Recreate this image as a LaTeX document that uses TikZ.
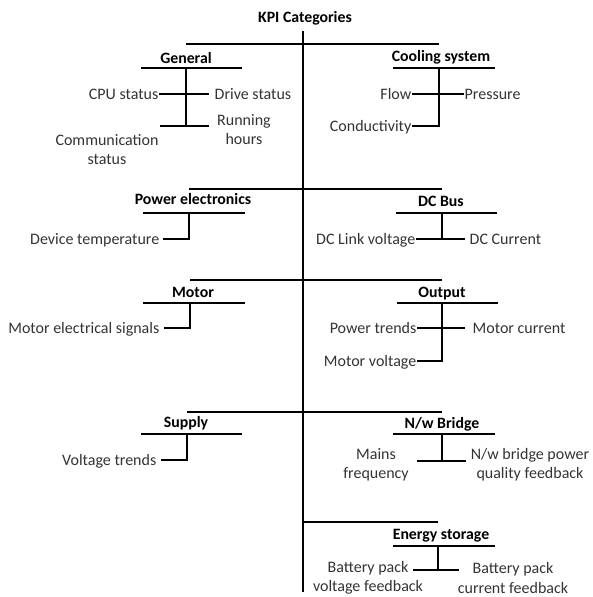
\documentclass[tikz,border=0pt]{standalone}
\usepackage{fontspec}
\setmainfont{Carlito}
\usetikzlibrary{positioning, calc}
\tikzstyle{wire} = [line width=1.8pt]
\tikzstyle{cat} = [font=\fontsize{15.8}{19}\selectfont\bfseries, inner sep=0pt, anchor=base]
\tikzstyle{sig} = [font=\fontsize{16}{19}\selectfont, text=black!80, inner ysep=0pt, inner xsep=0.5pt, text height=10.8pt, text depth=0pt]
\tikzstyle{sig2} = [font=\fontsize{16}{19.5}\selectfont, text=black!80, inner sep=0pt, align=center]

\begin{document}
\begin{tikzpicture}[x=1pt, y=-1pt]
    \useasboundingbox (0,0) rectangle (592,597);

    % Root
    \node[cat] (kpi) at (305, 22) {KPI Categories};
    \coordinate (top) at (303, 31);
    \coordinate (bottom) at (303, 592);
    \draw[wire] (top) -- (bottom);

    % Branch rows
    \coordinate (r1) at (303, 44);
    \coordinate (r2) at (303, 189);
    \coordinate (r3) at (303, 280);
    \coordinate (r4) at (303, 412);
    \coordinate (r5) at (303, 522);

    % General
    \coordinate (genU) at (186, 68);
    \coordinate (genD) at (186, 126);
    \node[cat] (general) at (186, 63.5) {General};
    \draw[wire] ([xshift=-45pt]genU) -- ([xshift=56pt]genU);
    \draw[wire] (genU) -- (genD);
    \node[sig, anchor=east] (cpu) at (159, 94) {CPU status};
    \node[sig, anchor=west] (drive) at (214, 94) {Drive status};
    \draw[wire] (cpu.east) -- ([xshift=-5pt]drive.west);
    \draw[wire] ([xshift=-26pt]genD) -- ([xshift=23pt]genD);
    \node[sig2] (comm) at (107, 149.5) {Communication\\status};
    \node[sig2] (hours) at (244, 129.5) {Running\\hours};

    % Cooling system
    \coordinate (coolU) at (439, 68);
    \coordinate (coolD) at (439, 126);
    \node[cat] (cooling) at (441, 61.5) {Cooling system};
    \draw[wire] ([xshift=-46pt]coolU) -- ([xshift=56pt]coolU);
    \node[sig, anchor=east] (flow) at (412, 94) {Flow};
    \node[sig, anchor=west] (pressure) at (464, 94) {Pressure};
    \draw[wire] (flow.east) -- (pressure.west);
    \node[sig, anchor=east] (cond) at (412, 126) {Conductivity};
    \draw[wire] (coolU) -- (coolD) -- (cond.east);

    % Power electronics
    \coordinate (powU) at (189, 213);
    \coordinate (powD) at (189, 239);
    \node[cat] (power) at (193, 204.5) {Power electronics};
    \draw[wire] ([xshift=-46pt]powU) -- ([xshift=56pt]powU);
    \node[sig, anchor=east] (devtemp) at (160, 239) {Device temperature};
    \draw[wire] (powU) -- (powD) -- ([xshift=3pt]devtemp.east);

    % DC Bus
    \coordinate (dcU) at (442, 213);
    \coordinate (dcD) at (442, 239);
    \node[cat] (dcbus) at (441, 206) {DC Bus};
    \draw[wire] ([xshift=-46pt]dcU) -- ([xshift=55pt]dcU);
    \draw[wire] (dcU) -- (dcD);
    \node[sig, anchor=east] (dclink) at (416, 239) {DC Link voltage};
    \node[sig, anchor=west] (dccur) at (469, 239) {DC Current};
    \draw[wire] (dclink.east) -- ([xshift=-4pt]dccur.west);

    % Motor
    \coordinate (motU) at (190, 303);
    \coordinate (motD) at (190, 328);
    \node[cat] (motor) at (193, 297.5) {Motor};
    \draw[wire] ([xshift=-47pt]motU) -- ([xshift=55pt]motU);
    \node[sig, anchor=east] (elec) at (160, 328) {Motor electrical signals};
    \draw[wire] (motU) -- (motD) -- ([xshift=4pt]elec.east);

    % Output
    \coordinate (outU) at (442, 303);
    \coordinate (outD) at (442, 361);
    \node[cat] (output) at (442, 297.5) {Output};
    \draw[wire] ([xshift=-45pt]outU) -- ([xshift=56pt]outU);
    \node[sig, anchor=east] (ptrend) at (417, 328) {Power trends};
    \node[sig, anchor=west] (mcur) at (472, 328) {Motor current};
    \draw[wire] (ptrend.east) -- ([xshift=-7pt]mcur.west);
    \node[sig, anchor=east] (mvolt) at (417, 361) {Motor voltage};
    \draw[wire] (outU) -- (outD) -- (mvolt.east);

    % Supply
    \coordinate (supU) at (187, 434);
    \coordinate (supD) at (187, 460);
    \node[cat] (supply) at (186, 427.5) {Supply};
    \draw[wire] ([xshift=-46pt]supU) -- ([xshift=55pt]supU);
    \node[sig, anchor=east] (vtrend) at (157, 460) {Voltage trends};
    \draw[wire] (supU) -- (supD) -- ([xshift=4pt]vtrend.east);

    % N/w Bridge
    \coordinate (nwU) at (442, 434);
    \coordinate (nwD) at (442, 461);
    \node[cat] (bridge) at (442, 428.5) {N/w Bridge};
    \draw[wire] ([xshift=-49pt]nwU) -- ([xshift=53pt]nwU);
    \draw[wire] (nwU) -- (nwD);
    \draw[wire] ([xshift=-25pt]nwD) -- ([xshift=24pt]nwD);
    \node[sig2] (mains) at (376, 464.8) {Mains\\frequency};
    \node[sig2] (nwfb) at (530, 464.8) {N/w bridge power\\quality feedback};

    % Energy storage
    \coordinate (enU) at (438, 546);
    \coordinate (enD) at (438, 570);
    \node[cat] (storage) at (441, 539) {Energy storage};
    \draw[wire] ([xshift=-45pt]enU) -- ([xshift=57pt]enU);
    \draw[wire] (enU) -- (enD);
    \draw[wire] ([xshift=-25pt]enD) -- ([xshift=21pt]enD);
    \node[sig2] (bpv) at (368, 577.8) {Battery pack\\voltage feedback};
    \node[sig2] (bpc) at (513, 577.8) {Battery pack\\current feedback};

    % Branches
    \draw[wire] (r1 -| genU) -- (r1 -| coolU);
    \draw[wire] (r2 -| powU) -- (r2 -| dcU);
    \draw[wire] (r3 -| motU) -- (r3 -| outU);
    \draw[wire] (r4 -| supU) -- (r4 -| nwU);
    \draw[wire] (r5) -- (r5 -| enU);
\end{tikzpicture}
\end{document}
